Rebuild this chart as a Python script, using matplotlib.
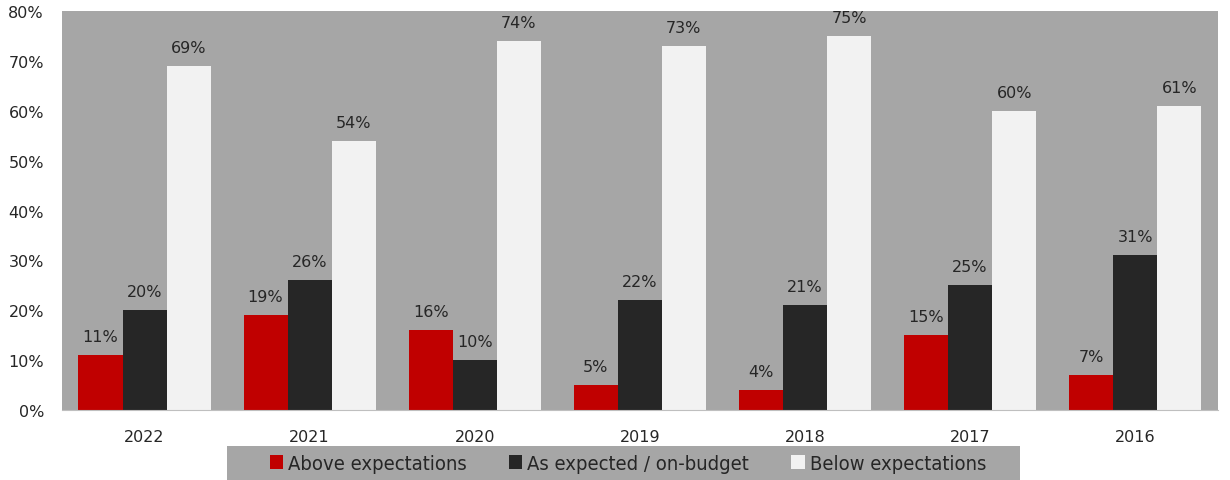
import matplotlib
matplotlib.use('Agg')

import matplotlib.patches as mpatches
import matplotlib.pyplot as plt
from matplotlib.font_manager import FontProperties
import numpy as np

years = ['2022', '2021', '2020', '2019', '2018', '2017', '2016']
above = [11, 19, 16, 5, 4, 15, 7]
as_expected = [20, 26, 10, 22, 21, 25, 31]
below = [69, 54, 74, 73, 75, 60, 61]

series_names = ['Above expectations', 'As expected / on-budget', 'Below expectations']

c_bg = '#a6a6a6'
c_red = '#c00000'
c_dark = '#262626'
c_white = '#f2f2f2'
c_text = '#262626'

plt.rcParams['font.family'] = ['DejaVu Sans']

fig = plt.figure(figsize=(12.3, 4.81), dpi=100)
ax = fig.add_axes([0.0504, 0.1455, 0.9396, 0.8295])
ax.set_facecolor(c_bg)

x = np.arange(len(years))
w = 0.267
series = [above, as_expected, below]
colors = [c_red, c_dark, c_white]
for i, (vals, col, name) in enumerate(zip(series, colors, series_names)):
    pos = x + (i - 1) * w
    ax.bar(pos, vals, width=w, color=col, label=name, edgecolor='none')
    for px, v in zip(pos, vals):
        ax.text(px, v + 2.2, '%d%%' % v, ha='center', va='bottom',
                fontsize=11.5, color=c_text)

ax.set_xlim(-0.5, len(years) - 0.5)
ax.set_ylim(0, 80)
ax.set_yticks(range(0, 81, 10))
ax.set_yticklabels(['%d%%' % t for t in range(0, 81, 10)])
ax.set_xticks(x)
ax.set_xticklabels(years)
ax.tick_params(axis='both', length=0, labelsize=11.5, colors=c_text)
ax.tick_params(axis='y', pad=13)
ax.tick_params(axis='x', pad=14)
for s in ['top', 'right', 'left']:
    ax.spines[s].set_visible(False)
ax.spines['bottom'].set_color('#bfbfbf')

# grey band behind the legend
band = mpatches.Rectangle((227 / 1230, 0), (1020 - 227) / 1230, 34 / 481,
                          transform=fig.transFigure, facecolor=c_bg,
                          edgecolor='none', zorder=0)
fig.patches.append(band)

leg_font = FontProperties(family='DejaVu Sans', stretch='condensed', size=14.5)
leg = fig.legend(loc='center', bbox_to_anchor=(0.5106, 0.0343), ncol=3,
                 frameon=False, prop=leg_font,
                 handlelength=0.65, handleheight=0.65, handletextpad=0.25,
                 columnspacing=2.1, borderpad=0, borderaxespad=0)
for t in leg.get_texts():
    t.set_color(c_text)

fig.savefig('out.png', dpi=100)
